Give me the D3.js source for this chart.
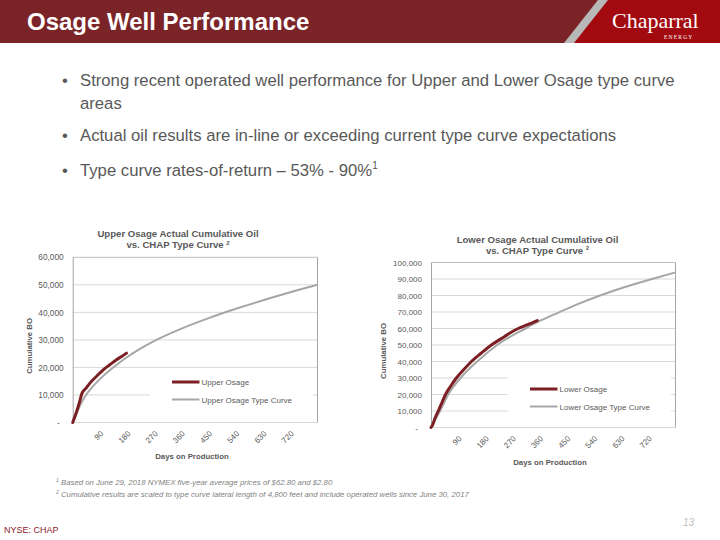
<!DOCTYPE html>
<html><head><meta charset="utf-8">
<script src="https://cdn.jsdelivr.net/npm/d3@7"></script>
<style>
html,body{margin:0;padding:0;background:#fff;}
svg{display:block;font-family:"Liberation Sans",Arial,sans-serif;}
</style></head>
<body>
<svg id="c" width="720" height="540"></svg>
<script>
// ---------- data ----------
const dayTicks = [90,180,270,360,450,540,630,720];
const upperYTicks = [0,10000,20000,30000,40000,50000,60000];
const lowerYTicks = [0,10000,20000,30000,40000,50000,60000,70000,80000,90000,100000];

const upperActualDays = [0,6,13,22,30,45,57,80,101,123,145,162,178];
const upperActualBO   = [0,1800,4000,7200,10400,12600,14300,16900,19150,21000,22800,24000,25200];
const upperTypeDays = [0,5,15,30,44,60,90,140,178,217,277,360,450,540,630,720,810];
const upperTypeBO   = [0,1100,3800,7400,10000,12250,15750,20500,23600,26350,30000,34100,37900,41300,44400,47300,50000];

const lowerActualDays = [0,5,12,24,36,48,65,84,108,134,166,200,243,270,289,320,352];
const lowerActualBO   = [0,1500,5000,10000,15000,20000,25000,30000,35000,40000,45000,50000,55000,58200,60000,62300,64800];
const lowerTypeDays = [0,5,15,30,57,98,153,219,313,352,420,480,560,640,735,810];
const lowerTypeBO   = [0,1200,5000,10000,20000,30000,40000,50000,60000,63800,69500,74300,80000,85000,90200,94000];

const bullets = [
  ["Strong recent operated well performance for Upper and Lower Osage type curve","areas"],
  ["Actual oil results are in-line or exceeding current type curve expectations"],
  ["Type curve rates-of-return \u2013 53% - 90%"]
];

const svg = d3.select("#c");
const RED = "#7B1F24", GRAY = "#A6A6A6", TXT = "#595959";

// ---------- header ----------
svg.append("rect").attr("x",0).attr("y",0).attr("width",720).attr("height",43).attr("fill","#7A2428");
svg.append("polygon").attr("points","600,0 720,0 720,43 568,43").attr("fill","#A30A10");
svg.append("polygon").attr("points","598,0 608,0 574,43 564,43").attr("fill","#B8B8B8");
svg.append("text").attr("x",27).attr("y",30).attr("fill","#fff")
  .attr("font-size",24).attr("font-weight","bold").text("Osage Well Performance");
svg.append("text").attr("x",612).attr("y",28).attr("fill","#fff")
  .attr("font-family","'Liberation Serif','DejaVu Serif',serif").attr("font-size",22).text("Chaparral");
svg.append("text").attr("x",664).attr("y",39).attr("fill","#fff")
  .attr("font-family","'Liberation Serif','DejaVu Serif',serif").attr("font-size",5.5)
  .attr("letter-spacing",1.2).text("ENERGY");

// ---------- bullets ----------
const by = [86,141,176];
bullets.forEach((b,i)=>{
  svg.append("text").attr("x",62).attr("y",by[i]).attr("fill",TXT).attr("font-size",16.7).text("\u2022");
  b.forEach((line,j)=>{
    const t = svg.append("text").attr("x",80).attr("y",by[i]+j*23).attr("fill",TXT).attr("font-size",16.7).text(line);
    if(i===2){ t.append("tspan").attr("font-size",10).attr("dy",-7).text("1"); }
  });
});

// ---------- chart builder ----------
function chart(o){
  const g = svg.append("g");
  const x = d3.scaleLinear().domain([0,810]).range([o.x0,o.x1]);
  const y = d3.scaleLinear().domain([0,o.ymax]).range([o.y0,o.y1]);
  // gridlines
  g.append("g").selectAll("line").data(o.yTicks.filter(d=>d>0 && d<o.ymax)).join("line")
    .attr("x1",o.x0).attr("x2",o.x1).attr("y1",d=>y(d)).attr("y2",d=>y(d))
    .attr("stroke","#D9D9D9").attr("stroke-width",1);
  // legend box (white, covers gridlines)
  g.append("rect").attr("x",o.lx-22).attr("y",o.ly-12).attr("width",163).attr("height",42).attr("fill","#fff");
  // borders
  g.append("line").attr("x1",o.x0).attr("x2",o.x1).attr("y1",o.y1).attr("y2",o.y1).attr("stroke","#BFBFBF");
  g.append("line").attr("x1",o.x1).attr("x2",o.x1).attr("y1",o.y1).attr("y2",o.y0).attr("stroke","#A6A6A6");
  g.append("line").attr("x1",o.x0).attr("x2",o.x1).attr("y1",o.y0).attr("y2",o.y0).attr("stroke","#D9D9D9");
  // y axis
  const ya = g.append("g").attr("transform",`translate(${o.x0},0)`)
    .call(d3.axisLeft(y).tickValues(o.yTicks).tickSize(0).tickPadding(9)
      .tickFormat(d=> d===0 ? "-" : d3.format(",")(d)));
  ya.select(".domain").attr("stroke","#A6A6A6");
  ya.selectAll("text").attr("fill",TXT).attr("font-size",o.yfs).attr("font-family","'Liberation Sans',Arial,sans-serif")
    .attr("dx",d=>d===0?-4:0);
  // x axis labels
  const xa = g.append("g").attr("transform",`translate(0,${o.y0})`)
    .call(d3.axisBottom(x).tickValues(dayTicks).tickSize(0).tickFormat(d3.format("d")));
  xa.select(".domain").remove();
  xa.selectAll("text").attr("fill",TXT).attr("font-size",8).attr("font-family","'Liberation Sans',Arial,sans-serif")
    .attr("text-anchor","end").attr("dy",null).attr("y",0)
    .attr("transform","translate(3.5,11.7) rotate(-45)");
  // lines
  const line = d3.line().x(d=>x(d[0])).y(d=>y(d[1])).curve(d3.curveMonotoneX);
  g.append("path").datum(d3.zip(o.typeDays,o.typeBO)).attr("d",line)
    .attr("fill","none").attr("stroke",GRAY).attr("stroke-width",2);
  g.append("path").datum(d3.zip(o.actDays,o.actBO)).attr("d",line)
    .attr("fill","none").attr("stroke",RED).attr("stroke-width",3).attr("stroke-linecap","round");
  // legend
  g.append("line").attr("x1",o.lx).attr("x2",o.lx+27.5).attr("y1",o.ly).attr("y2",o.ly)
    .attr("stroke",RED).attr("stroke-width",3);
  g.append("text").attr("x",o.lx+29.5).attr("y",o.ly+3).attr("font-size",8).attr("fill",TXT).text(o.name);
  g.append("line").attr("x1",o.lx).attr("x2",o.lx+27.5).attr("y1",o.ly+17.5).attr("y2",o.ly+17.5)
    .attr("stroke",GRAY).attr("stroke-width",2);
  g.append("text").attr("x",o.lx+29.5).attr("y",o.ly+20.5).attr("font-size",8).attr("fill",TXT).text(o.name+" Type Curve");
  // titles
  const t = g.append("text").attr("x",o.tx).attr("y",o.ty).attr("text-anchor","middle")
    .attr("font-size",9.6).attr("font-weight","bold").attr("fill",TXT);
  t.append("tspan").attr("x",o.tx).text(o.title1);
  const t2 = g.append("text").attr("x",o.tx).attr("y",o.ty+11).attr("text-anchor","middle")
    .attr("font-size",9.6).attr("font-weight","bold").attr("fill",TXT);
  t2.append("tspan").text("vs. CHAP Type Curve ");
  t2.append("tspan").attr("font-size",6).attr("dy",-3.5).text("2");
  g.append("text").attr("transform",`translate(${o.yt},${(o.y0+o.y1)/2+6}) rotate(-90)`)
    .attr("text-anchor","middle").attr("font-size",7.8).attr("font-weight","bold").attr("fill",TXT).text("Cumulative  BO");
  g.append("text").attr("x",o.xtx).attr("y",o.xty).attr("text-anchor","middle")
    .attr("font-size",7.8).attr("font-weight","bold").attr("fill",TXT).text("Days on Production");
}

chart({x0:72.7,x1:317.5,y0:422.5,y1:257.3,ymax:60000,yTicks:upperYTicks,yfs:8.3,
  typeDays:upperTypeDays,typeBO:upperTypeBO,actDays:upperActualDays,actBO:upperActualBO,
  lx:172,ly:382,name:"Upper Osage",
  tx:178,ty:237,title1:"Upper Osage Actual Cumulative Oil",yt:32,xtx:192,xty:459});
chart({x0:431,x1:675.5,y0:427.5,y1:262.5,ymax:100000,yTicks:lowerYTicks,yfs:8,
  typeDays:lowerTypeDays,typeBO:lowerTypeBO,actDays:lowerActualDays,actBO:lowerActualBO,
  lx:530,ly:389,name:"Lower Osage",
  tx:537.5,ty:242.5,title1:"Lower Osage Actual Cumulative Oil",yt:386,xtx:550,xty:465});

// ---------- footnotes ----------
const foot = [["1","Based on June 29, 2018 NYMEX five-year average prices of $62.80 and $2.80"],
              ["2","Cumulative results are scaled to type curve lateral length of 4,800 feet and include operated wells since June 30, 2017"]];
foot.forEach((f,i)=>{
  const t = svg.append("text").attr("x",56).attr("y",485+i*12).attr("font-size",7.8)
    .attr("font-style","italic").attr("fill","#7F7F7F");
  t.append("tspan").attr("font-size",5).attr("dy",-3).text(f[0]);
  t.append("tspan").attr("dy",3).text(" "+f[1]);
});
svg.append("text").attr("x",4).attr("y",533).attr("font-size",9).attr("fill","#8B1A1F").text("NYSE: CHAP");
svg.append("text").attr("x",683).attr("y",526).attr("font-size",10).attr("font-style","italic").attr("fill","#BFBFBF").text("13");
</script>
</body></html>
